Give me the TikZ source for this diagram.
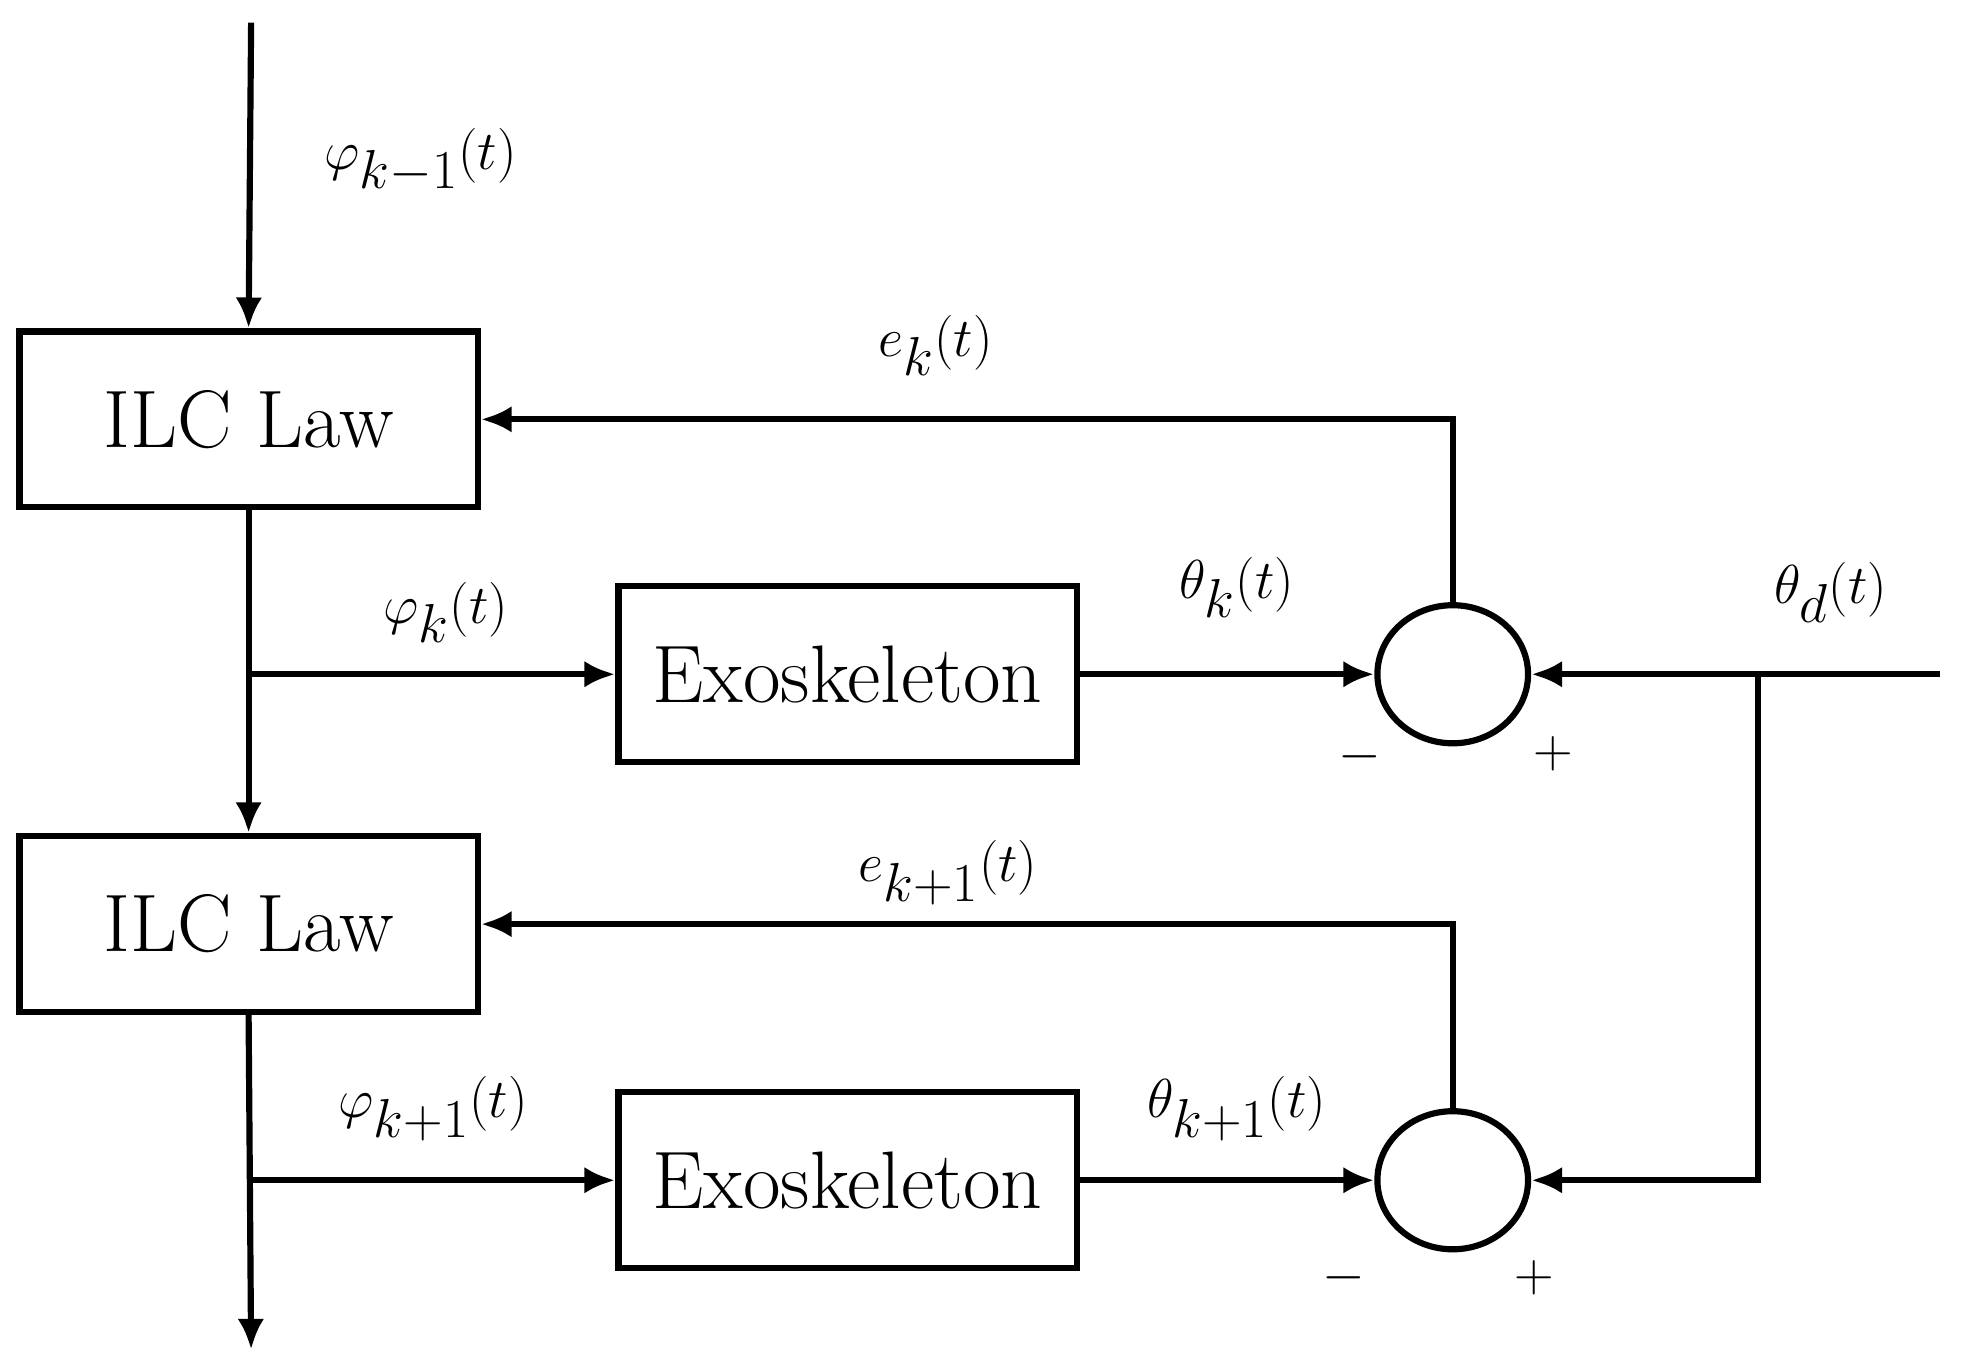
\documentclass[tikz,border=0pt]{standalone}
\usetikzlibrary{arrows.meta,shapes.geometric}
\begin{document}
\begin{tikzpicture}[x=0.02cm,y=-0.02cm,line width=2.8pt,
  box/.style={draw,rectangle,minimum width=7.3cm,minimum height=2.8cm,inner sep=0,font=\fontsize{37}{40}\selectfont},
  sum/.style={draw,ellipse,minimum width=2.4cm,minimum height=2.2cm,inner sep=0},
  lab/.style={font=\fontsize{50}{54}\selectfont},
  arr/.style={-{Latex[length=14pt,width=12pt]}}]
\useasboundingbox (0,0) rectangle (1565,1087);
\node[box] (ilc1) at (198,334) {ILC Law};
\node[box] (ilc2) at (198,736) {ILC Law};
\node[box] (exo1) at (675,537) {Exoskeleton};
\node[box] (exo2) at (675,940) {Exoskeleton};
\node[sum] (s1) at (1157,537) {};
\node[sum] (s2) at (1157,940) {};
\coordinate (top) at (200,18);
\coordinate (bot) at (200,1075);
\coordinate (br1) at (200,537);
\coordinate (br2) at (200,940);
\coordinate (din) at (1545,537);
\coordinate (dbr) at (1400,537);
\draw[arr] (top) -- (ilc1.north);
\draw[arr] (ilc1.south) -- (ilc2.north);
\draw[arr] (ilc2.south) -- (bot);
\draw[arr] (br1) -- (exo1.west);
\draw[arr] (br2) -- (exo2.west);
\draw[arr] (exo1.east) -- (s1.west);
\draw[arr] (exo2.east) -- (s2.west);
\draw[arr] (s1.north) |- (ilc1.east);
\draw[arr] (s2.north) |- (ilc2.east);
\draw[arr] (din) -- (s1.east);
\draw[arr] (dbr) |- (s2.east);
\node[lab] (l1) at (335,128) {$\varphi_{k-1}(t)$};
\node[lab] (l2) at (745,275) {$e_{k}(t)$};
\node[lab] (l3) at (355,488) {$\varphi_{k}(t)$};
\node[lab] (l4) at (985,468) {$\theta_{k}(t)$};
\node[lab] (l5) at (1458,472) {$\theta_{d}(t)$};
\node[lab] (l6) at (1083,603) {$-$};
\node[lab] (l7) at (1237,600) {$+$};
\node[lab] (l8) at (755,695) {$e_{k+1}(t)$};
\node[lab] (l9) at (345,883) {$\varphi_{k+1}(t)$};
\node[lab] (l10) at (985,883) {$\theta_{k+1}(t)$};
\node[lab] (l11) at (1070,1018) {$-$};
\node[lab] (l12) at (1222,1018) {$+$};
\end{tikzpicture}
\end{document}
